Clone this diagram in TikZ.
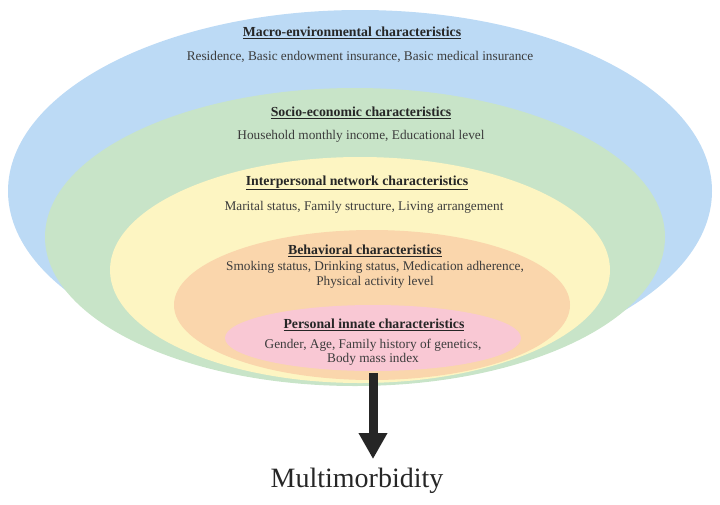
\documentclass[tikz,border=0pt]{standalone}
\usepackage{fontspec}
\setmainfont{Liberation Serif}
\usetikzlibrary{shapes.geometric,arrows.meta}
\definecolor{blueC}{HTML}{BCDAF5}
\definecolor{greenC}{HTML}{C8E4C8}
\definecolor{yellowC}{HTML}{FDF5C2}
\definecolor{orangeC}{HTML}{FAD6AC}
\definecolor{pinkC}{HTML}{F9C8D4}
\definecolor{titleC}{HTML}{262626}
\definecolor{bodyC}{HTML}{3C3C3C}
\definecolor{arrowC}{HTML}{262626}
\tikzset{
  ring/.style={ellipse, inner sep=0pt, draw=none},
  ttl/.style={inner sep=0pt, text=titleC, font=\fontsize{13.8}{15}\selectfont\bfseries},
  desc/.style={inner sep=0pt, text=bodyC, align=center, font=\fontsize{13.3}{14.5}\selectfont},
}
\begin{document}
\begin{tikzpicture}[x=1pt,y=-1pt]
\useasboundingbox (0,0) rectangle (720,504);
% rings
\node[ring, fill=blueC, minimum width=704pt, minimum height=362pt] (macro) at (360,191) {};
\node[ring, fill=greenC, minimum width=620pt, minimum height=298pt] (socio) at (355,237) {};
\node[ring, fill=yellowC, minimum width=500pt, minimum height=226pt] (inter) at (360,270) {};
\node[ring, fill=orangeC, minimum width=396pt, minimum height=150pt] (behav) at (372,305) {};
\node[ring, fill=pinkC, minimum width=296pt, minimum height=66pt] (innate) at (373,338) {};
% texts
\node[ttl] (t1) at (352,33) {\underline{Macro-environmental characteristics}};
\node[desc] (d1) at (360,57) {Residence, Basic endowment insurance, Basic medical insurance};
\node[ttl] (t2) at (361,113) {\underline{Socio-economic characteristics}};
\node[desc] (d2) at (361,136) {Household monthly income, Educational level};
\node[ttl] (t3) at (357,183) {\underline{Interpersonal network characteristics}};
\node[desc] (d3) at (364,207) {Marital status, Family structure, Living arrangement};
\node[ttl] (t4) at (365,251) {\underline{Behavioral characteristics}};
\node[desc] (d4) at (375,275) {Smoking status, Drinking status, Medication adherence,\\Physical activity level};
\node[ttl] (t5) at (374,325) {\underline{Personal innate characteristics}};
\node[desc] (d5) at (373,352) {Gender, Age, Family history of genetics,\\Body mass index};
% outcome
\node[inner sep=0pt, text=arrowC, font=\fontsize{28}{30}\selectfont] (mm) at (357,481) {Multimorbidity};
\draw[arrowC, line width=9pt, -{Triangle[width=27pt,length=26pt]}, shorten >=9pt] (innate.south -| 373,0) ++(0,2) coordinate (a0) (a0) -- (a0 |- mm.north);
\end{tikzpicture}
\end{document}
